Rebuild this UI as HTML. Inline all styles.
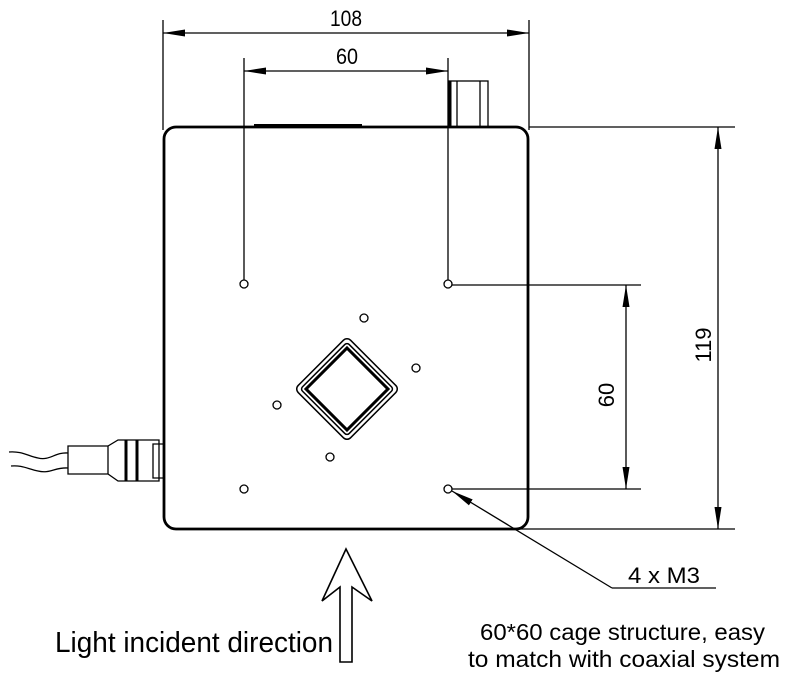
<!DOCTYPE html>
<html><head><style>html,body{margin:0;padding:0;background:#fff}svg{display:block}</style></head>
<body>
<svg width="792" height="682" viewBox="0 0 792 682" xmlns="http://www.w3.org/2000/svg" font-family="Liberation Sans Narrow, Liberation Sans, sans-serif">
<defs>
<marker id="a" viewBox="0 0 22 8" refX="22" refY="4" markerWidth="22" markerHeight="8" markerUnits="userSpaceOnUse" orient="auto-start-reverse"><path d="M0,0.5 L22,4 L0,7.5 z" fill="#000"/></marker>
</defs>
<g stroke="#000" fill="none" stroke-width="1.3">
<line x1="163" y1="20" x2="163" y2="130"/>
<line x1="529" y1="20" x2="529" y2="130"/>
<line x1="163" y1="33" x2="529" y2="33" marker-start="url(#a)" marker-end="url(#a)"/>
<line x1="244" y1="58" x2="244" y2="280"/>
<line x1="448" y1="58" x2="448" y2="280"/>
<line x1="244" y1="71" x2="448" y2="71" marker-start="url(#a)" marker-end="url(#a)"/>
<line x1="529" y1="127" x2="735" y2="127"/>
<line x1="515" y1="529" x2="735" y2="529"/>
<line x1="718" y1="127" x2="718" y2="529" marker-start="url(#a)" marker-end="url(#a)"/>
<line x1="452" y1="285" x2="641" y2="285"/>
<line x1="452" y1="489" x2="641" y2="489"/>
<line x1="626" y1="285" x2="626" y2="489" marker-start="url(#a)" marker-end="url(#a)"/>
<line x1="452" y1="491" x2="612" y2="588" marker-start="url(#a)"/>
<line x1="612" y1="588" x2="716" y2="588"/>
<rect x="449" y="81" width="39" height="46"/>
<line x1="457" y1="81" x2="457" y2="127"/>
<line x1="480" y1="81" x2="480" y2="127"/>
<line x1="450" y1="81" x2="450" y2="127" stroke-width="3"/>
<line x1="254" y1="125" x2="362" y2="125" stroke-width="2"/>
<rect x="164" y="127" width="364" height="402" rx="12" stroke-width="2.8"/>
<circle cx="244" cy="284" r="4"/><circle cx="448" cy="284" r="4"/>
<circle cx="244" cy="489" r="4"/><circle cx="448" cy="489" r="4"/>
<circle cx="364" cy="318" r="4"/><circle cx="416" cy="368" r="4"/>
<circle cx="277" cy="405" r="4"/><circle cx="330" cy="457" r="4"/>
<g transform="translate(347,389) rotate(45)">
<rect x="-37" y="-37" width="74" height="74" rx="5" stroke-width="1.5"/>
<rect x="-33" y="-33" width="66" height="66" rx="3" stroke-width="1.5"/>
<rect x="-29" y="-29" width="58" height="58" stroke-width="3"/>
</g>
<path d="M163,444 h-10 v34 h10" />
<path d="M159,440 L118,440 L108,446 L68,446 L68,474 L108,474 L118,481 L159,481 Z"/>
<line x1="126" y1="440" x2="126" y2="481" stroke-width="3"/>
<line x1="137" y1="440" x2="137" y2="481" stroke-width="3"/>
<line x1="108" y1="446" x2="108" y2="474"/>
<path d="M68,453 C55,452 50,461 38,458 C28,456 22,451 9,452"/>
<path d="M68,468 C55,467 50,474 38,471 C28,469 22,465 11,466"/>
<path d="M346,549 L372,601 L352,587 L352,662 L340,662 L340,587 L322,601 Z" stroke-width="1.6"/>
</g>
<g fill="#000" font-size="22">
<text x="330" y="26" textLength="32" lengthAdjust="spacingAndGlyphs">108</text>
<text x="336" y="64" textLength="22" lengthAdjust="spacingAndGlyphs">60</text>
<text transform="translate(711,345) rotate(-90)" text-anchor="middle">119</text>
<text transform="translate(614,395) rotate(-90)" text-anchor="middle">60</text>
<text x="628" y="583" textLength="72" lengthAdjust="spacingAndGlyphs">4 x  M3</text>
<text x="55" y="652" font-size="29" textLength="278" lengthAdjust="spacingAndGlyphs">Light incident direction</text>
<text x="480" y="640" font-size="23" textLength="285" lengthAdjust="spacingAndGlyphs">60*60 cage structure, easy</text>
<text x="468" y="667" font-size="23" textLength="312" lengthAdjust="spacingAndGlyphs">to match with coaxial system</text>
</g>
</svg>
</body></html>
